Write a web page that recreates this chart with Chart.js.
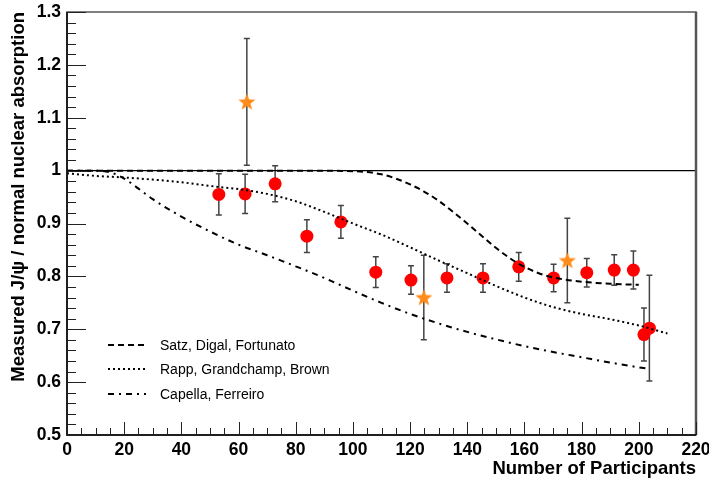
<!DOCTYPE html>
<html>
<head>
<meta charset="utf-8">
<script src="https://cdn.jsdelivr.net/npm/chart.js@4.4.1/dist/chart.umd.min.js"></script>
<style>
  html, body { margin: 0; background: #fff; }
  #caixa { width: 709px; height: 481px; }
</style>
</head>
<body>
<div id="caixa"><canvas id="grafico"></canvas></div>
<script>
// pontos medidos (circulos vermelhos)
const npartMedidos = [53.1, 62.3, 72.8, 83.9, 95.8, 108.0, 120.3, 132.9, 145.5, 158.0, 170.2, 181.8, 191.4, 198.1, 201.8, 203.7]
const razaoMedidos = [0.955, 0.956, 0.975, 0.876, 0.903, 0.808, 0.793, 0.797, 0.797, 0.818, 0.797, 0.807, 0.812, 0.812, 0.690, 0.702]
const erroMedidos = [0.039, 0.037, 0.034, 0.031, 0.031, 0.029, 0.027, 0.027, 0.027, 0.027, 0.026, 0.027, 0.029, 0.036, 0.050, 0.100]

// estrelas laranja
const npartEstrelas = [62.9, 124.8, 175.0]
const razaoEstrelas = [1.13, 0.76, 0.83]
const erroEstrelas = [0.12, 0.08, 0.08]

// curvas teoricas
const satzX = [0, 20, 40, 60, 80, 100, 110, 115, 120, 125, 130, 135, 140, 145, 150, 155, 160, 165, 170, 180, 190, 200]
const satzY = [1, 1, 1, 1, 1, 0.999, 0.993, 0.985, 0.974, 0.960, 0.943, 0.922, 0.900, 0.877, 0.854, 0.834, 0.818, 0.806, 0.798, 0.790, 0.786, 0.784]
const rappX = [0, 10, 20, 30, 40, 50, 60, 70, 80, 90, 100, 110, 120, 130, 140, 150, 160, 170, 180, 190, 200, 210]
const rappY = [0.995, 0.990, 0.987, 0.983, 0.978, 0.971, 0.965, 0.956, 0.942, 0.922, 0.900, 0.879, 0.855, 0.830, 0.806, 0.782, 0.760, 0.742, 0.729, 0.719, 0.707, 0.692]
const capellaX = [0, 10, 15, 20, 25, 30, 40, 50, 60, 70, 80, 90, 100, 110, 120, 130, 140, 150, 160, 170, 180, 190, 200, 204]
const capellaY = [1.0, 1.0, 0.997, 0.985, 0.966, 0.946, 0.913, 0.885, 0.860, 0.840, 0.819, 0.797, 0.773, 0.750, 0.729, 0.711, 0.695, 0.681, 0.668, 0.657, 0.647, 0.637, 0.628, 0.625]

// referencia em 1
const refX = [0, 220]
const refY = [1, 1]

// eixos
const xTickValores = [0, 20, 40, 60, 80, 100, 120, 140, 160, 180, 200, 220]
const xTickRotulos = ['0', '20', '40', '60', '80', '100', '120', '140', '160', '180', '200', '220']
const yTickValores = [0.5, 0.6, 0.7, 0.8, 0.9, 1.0, 1.1, 1.2, 1.3]
const yTickRotulos = ['0.5', '0.6', '0.7', '0.8', '0.9', '1', '1.1', '1.2', '1.3']

const nomesCurvas = ['Satz, Digal, Fortunato', 'Rapp, Grandchamp, Brown', 'Capella, Ferreiro']

const juntar = (xs, ys) => xs.map((v, i) => ({x: v, y: ys[i]}))

// estrela de 5 pontas desenhada num canvas pequeno
function fazerEstrela() {
  const c = document.createElement('canvas')
  c.width = 20; c.height = 20
  const g = c.getContext('2d')
  g.fillStyle = '#ff8c1a'
  g.beginPath()
  for (let i = 0; i < 10; i++) {
    const r = i % 2 === 0 ? 9 : 3.8
    const a = -Math.PI / 2 + i * Math.PI / 5
    const px = 10 + r * Math.cos(a), py = 10.5 + r * Math.sin(a)
    if (i === 0) g.moveTo(px, py); else g.lineTo(px, py)
  }
  g.closePath()
  g.fill()
  return c
}
const estrela = fazerEstrela()

const fonte = '"Liberation Sans", Arial, sans-serif'

const extras = {
  id: 'extras',
  beforeDatasetsDraw(chart) {
    const {ctx, scales: {x, y}} = chart
    ctx.save()
    ctx.strokeStyle = '#444'
    ctx.lineWidth = 1.5
    const barras = (xs, ys, es) => {
      xs.forEach((v, i) => {
        const px = x.getPixelForValue(v)
        const top = y.getPixelForValue(ys[i] + es[i])
        const bot = y.getPixelForValue(ys[i] - es[i])
        ctx.beginPath()
        ctx.moveTo(px, top); ctx.lineTo(px, bot)
        ctx.moveTo(px - 3, top); ctx.lineTo(px + 3, top)
        ctx.moveTo(px - 3, bot); ctx.lineTo(px + 3, bot)
        ctx.stroke()
      })
    }
    barras(npartMedidos, razaoMedidos, erroMedidos)
    barras(npartEstrelas, razaoEstrelas, erroEstrelas)
    ctx.restore()
  },
  afterDraw(chart) {
    const {ctx, chartArea: a, scales: {x, y}} = chart
    ctx.save()
    // moldura
    ctx.strokeStyle = '#555'
    ctx.lineWidth = 1.5
    ctx.strokeRect(a.left, a.top, a.right - a.left, a.bottom - a.top)
    ctx.lineWidth = 2.5
    ctx.beginPath(); ctx.moveTo(a.right, a.top); ctx.lineTo(a.right, a.bottom); ctx.stroke()
    ctx.strokeStyle = '#000'
    ctx.lineWidth = 1.5
    ctx.beginPath(); ctx.moveTo(a.left, a.top); ctx.lineTo(a.left, a.bottom); ctx.lineTo(a.right, a.bottom); ctx.stroke()

    // ticks pra dentro
    ctx.lineWidth = 1
    ctx.strokeStyle = '#222'
    ctx.beginPath()
    for (let i = 0; i <= 40; i++) {
      const py = Math.round(y.getPixelForValue(0.5 + i * 0.02)) + 0.5
      const len = i % 5 === 0 ? 19 : 9
      ctx.moveTo(a.left, py); ctx.lineTo(a.left + len, py)
    }
    for (let i = 0; i <= 44; i++) {
      const px = Math.round(x.getPixelForValue(i * 5)) + 0.5
      const len = i % 4 === 0 ? 13 : 7
      ctx.moveTo(px, a.bottom); ctx.lineTo(px, a.bottom - len)
    }
    ctx.stroke()

    // legenda
    ctx.font = '14px ' + fonte
    ctx.textBaseline = 'middle'
    ctx.fillStyle = '#000'
    const linhas = [345, 369, 394]
    for (let k = 0; k < 3; k++) {
      const ds = chart.data.datasets[k + 1]
      ctx.strokeStyle = '#000'
      ctx.lineWidth = 2
      ctx.setLineDash(ds.borderDash)
      ctx.beginPath(); ctx.moveTo(108, linhas[k]); ctx.lineTo(146, linhas[k]); ctx.stroke()
      ctx.setLineDash([])
      ctx.fillText(nomesCurvas[k], 160, linhas[k] + 1)
    }
    ctx.restore()
  }
}

new Chart(document.getElementById('grafico'), {
  type: 'scatter',
  data: {
    datasets: [
      { label: 'ref', data: juntar(refX, refY), showLine: true, borderColor: '#000', borderWidth: 1.3, pointRadius: 0 },
      { label: nomesCurvas[0], data: juntar(satzX, satzY), showLine: true, borderColor: '#000', borderWidth: 2, borderDash: [6, 4], pointRadius: 0, cubicInterpolationMode: 'monotone' },
      { label: nomesCurvas[1], data: juntar(rappX, rappY), showLine: true, borderColor: '#000', borderWidth: 2, borderDash: [2, 3], pointRadius: 0, cubicInterpolationMode: 'monotone' },
      { label: nomesCurvas[2], data: juntar(capellaX, capellaY), showLine: true, borderColor: '#000', borderWidth: 2, borderDash: [6, 5, 2, 5], pointRadius: 0, cubicInterpolationMode: 'monotone' },
      { label: 'medidos', data: juntar(npartMedidos, razaoMedidos), pointRadius: 6.5, pointBackgroundColor: '#ff0000', pointBorderWidth: 0, borderColor: '#ff0000' },
      { label: 'estrelas', data: juntar(npartEstrelas, razaoEstrelas), pointStyle: estrela, pointRadius: 9 }
    ]
  },
  options: {
    responsive: true,
    maintainAspectRatio: false,
    animation: false,
    layout: { padding: { top: 12, right: 13, left: 0, bottom: 0 } },
    plugins: { legend: { display: false }, tooltip: { enabled: false } },
    scales: {
      x: {
        type: 'linear', min: 0, max: 220,
        afterBuildTicks: s => { s.ticks = xTickValores.map(v => ({value: v})) },
        afterFit: s => { s.height = 46; s.paddingLeft = 0; s.paddingRight = 0 },
        grid: { display: false, drawTicks: false },
        border: { display: false },
        ticks: { padding: 5, color: '#000', font: { family: fonte, size: 17.5, weight: 'bold' }, maxRotation: 0,
                 callback: (v, i) => xTickRotulos[i] },
        title: { display: true, text: 'Number of Participants', align: 'end', color: '#000',
                 font: { family: fonte, size: 18.5, weight: 'bold' }, padding: { top: 0, bottom: 1 } }
      },
      y: {
        type: 'linear', min: 0.5, max: 1.3,
        afterBuildTicks: s => { s.ticks = yTickValores.map(v => ({value: v})) },
        afterFit: s => { s.width = 67; s.paddingTop = 0; s.paddingBottom = 0 },
        grid: { display: false, drawTicks: false },
        border: { display: false },
        ticks: { padding: 6, color: '#000', font: { family: fonte, size: 17.5, weight: 'bold' },
                 callback: (v, i) => yTickRotulos[i] },
        title: { display: true, text: 'Measured J/\u03C8 / normal nuclear absorption', align: 'end', color: '#000',
                 font: { family: fonte, size: 18.5, weight: 'bold' }, padding: { top: 8, bottom: 0 } }
      }
    }
  },
  plugins: [extras]
})
</script>
</body>
</html>
